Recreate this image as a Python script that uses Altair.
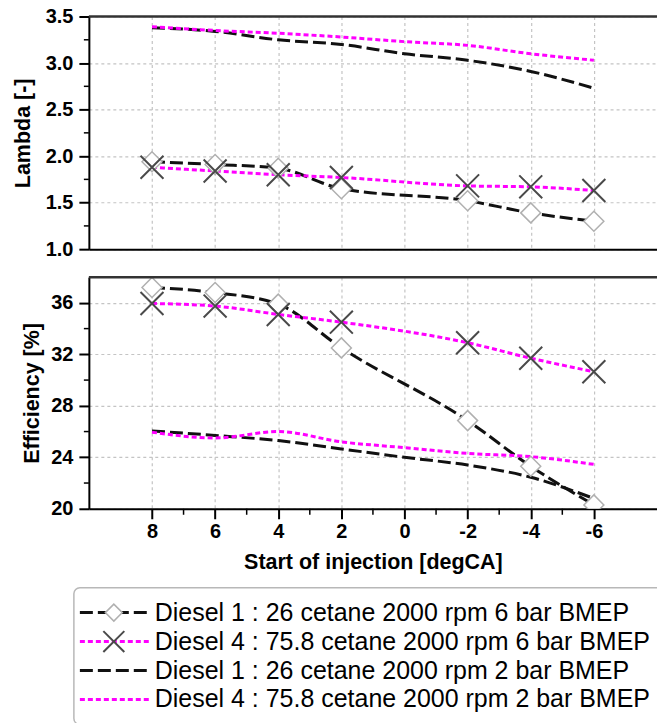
import altair as alt
import pandas as pd

# ---------------- data ----------------
series_names = [
    "Diesel 1 : 26 cetane 2000 rpm 6 bar BMEP",
    "Diesel 4 : 75.8 cetane 2000 rpm 6 bar BMEP",
    "Diesel 1 : 26 cetane 2000 rpm 2 bar BMEP",
    "Diesel 4 : 75.8 cetane 2000 rpm 2 bar BMEP",
]

x_6bar = [8, 6, 4, 2, -2, -4, -6]
x_2bar = [8, 6, 4, 2, 0, -2, -4, -6]

lambda_d1_6bar = [1.94, 1.91, 1.87, 1.65, 1.52, 1.39, 1.30]
lambda_d4_6bar = [1.88, 1.84, 1.80, 1.77, 1.68, 1.67, 1.63]
lambda_d1_2bar = [3.38, 3.34, 3.25, 3.20, 3.10, 3.03, 2.91, 2.73]
lambda_d4_2bar = [3.39, 3.35, 3.32, 3.28, 3.23, 3.19, 3.10, 3.03]

eff_d1_6bar = [37.2, 36.8, 35.9, 32.5, 26.85, 23.3, 20.3]
eff_d4_6bar = [35.95, 35.75, 35.1, 34.5, 32.9, 31.7, 30.65]
eff_d1_2bar = [26.05, 25.7, 25.3, 24.65, 24.0, 23.4, 22.45, 20.8]
eff_d4_2bar = [25.95, 25.5, 26.0, 25.2, 24.75, 24.3, 24.05, 23.45]

x_labels = [8, 6, 4, 2, 0, -2, -4, -6]
x_minor = [7, 5, 3, 1, -1, -3, -5]
lambda_ticks = [1.0, 1.5, 2.0, 2.5, 3.0, 3.5]
lambda_minor = [1.25, 1.75, 2.25, 2.75, 3.25]
eff_ticks = [20, 24, 28, 32, 36]
eff_minor = [22, 26, 30, 34]


def make_df(vals_list):
    rows = []
    for name, xs, ys in zip(series_names, [x_6bar, x_6bar, x_2bar, x_2bar], vals_list):
        for xv, yv in zip(xs, ys):
            rows.append({"series": name, "x": xv, "y": yv})
    return pd.DataFrame(rows)


df_lambda = make_df([lambda_d1_6bar, lambda_d4_6bar, lambda_d1_2bar, lambda_d4_2bar])
df_eff = make_df([eff_d1_6bar, eff_d4_6bar, eff_d1_2bar, eff_d4_2bar])

# ---------------- styling ----------------
FONT = "Liberation Sans"
W = 569
X_PATH = "M-1,-1L1,1M-1,1L1,-1"

color_scale = alt.Scale(domain=series_names,
                        range=["#111111", "#ff00ff", "#111111", "#ff00ff"])
dash_scale = alt.Scale(domain=series_names,
                       range=[[13, 5], [5, 3], [13, 5], [5, 3]])
x_scale = alt.Scale(domain=[10, -8], nice=False, zero=False)


def panel(df, ydom, ytitle, ymajor, yminor, yfmt, height, title_pad, bottom):
    ysc = alt.Scale(domain=ydom, nice=False, zero=False)
    if bottom:
        xaxis = alt.Axis(values=x_labels, grid=True, title="Start of injection [degCA]",
                         labelExpr="'' + datum.value", labelFlush=False, labelOverlap=False,
                         tickSize=10, tickWidth=2, labelPadding=3, titlePadding=10)
    else:
        xaxis = alt.Axis(values=x_labels, grid=True, labels=False, ticks=False,
                         title=None)
    yaxis = alt.Axis(values=ymajor, format=yfmt, title=ytitle, grid=True,
                     tickSize=10, tickWidth=2, labelPadding=6, titlePadding=title_pad,
                     labelFlush=False, labelOverlap=False)
    base = alt.Chart(df)
    lines = base.mark_line(strokeWidth=3, interpolate="monotone").encode(
        x=alt.X("x:Q", scale=x_scale, axis=xaxis),
        y=alt.Y("y:Q", scale=ysc, axis=yaxis),
        color=alt.Color("series:N", scale=color_scale, legend=None),
        strokeDash=alt.StrokeDash("series:N", scale=dash_scale, legend=None),
        order=alt.Order("x:Q", sort="descending"),
    )
    diamonds = base.transform_filter(alt.datum.series == series_names[0]).mark_point(
        shape="diamond", size=400, filled=True, fill="white", stroke="#b0b0b0",
        strokeWidth=1.5, opacity=1, clip=True
    ).encode(x=alt.X("x:Q", scale=x_scale), y=alt.Y("y:Q", scale=ysc))
    crosses = base.transform_filter(alt.datum.series == series_names[1]).mark_point(
        shape=X_PATH, size=529, filled=False, stroke="#4a4a4a", strokeWidth=2,
        opacity=1, clip=True
    ).encode(x=alt.X("x:Q", scale=x_scale), y=alt.Y("y:Q", scale=ysc))
    top_rule = alt.Chart(pd.DataFrame({"k": [0]})).mark_rule(
        color="#333333", strokeWidth=2.5
    ).encode(x=alt.value(0), x2=alt.value(W), y=alt.value(0))
    yminor_rules = alt.Chart(pd.DataFrame({"y": yminor})).mark_rule(
        color="black", strokeWidth=1.5
    ).encode(y=alt.Y("y:Q", scale=ysc), x=alt.value(-5), x2=alt.value(0))
    layers = [lines, diamonds, crosses, top_rule, yminor_rules]
    if bottom:
        xminor_rules = alt.Chart(pd.DataFrame({"x": x_minor})).mark_rule(
            color="black", strokeWidth=1.5
        ).encode(x=alt.X("x:Q", scale=x_scale),
                 y=alt.value(height), y2=alt.value(height + 6))
        layers.append(xminor_rules)
    return alt.layer(*layers).properties(width=W, height=height)


top = panel(df_lambda, [1.0, 3.5], "Lambda [-]", lambda_ticks, lambda_minor, ".1f",
            233, 11, False)
bottom_main = panel(df_eff, [20, 38], "Efficiency [%]", eff_ticks, eff_minor, "d",
                    232, 7, True)

# ---------------- legend (drawn below the lower panel) ----------------
leg_df = pd.DataFrame({"series": series_names})
row_scale = alt.Scale(type="point", domain=series_names, range=[336, 423], padding=0)
leg_y = alt.Y("series:N", scale=row_scale, axis=None)

box = alt.Chart(pd.DataFrame({"k": [0]})).mark_rect(
    fill="white", fillOpacity=0, stroke="#b8b8b8", strokeWidth=1.5, cornerRadius=6
).encode(x=alt.value(-15), x2=alt.value(W + 20), y=alt.value(311), y2=alt.value(448))
leg_lines = alt.Chart(leg_df).mark_rule(strokeWidth=3).encode(
    x=alt.value(-9), x2=alt.value(60), y=leg_y,
    color=alt.Color("series:N", scale=color_scale, legend=None),
    strokeDash=alt.StrokeDash("series:N", scale=dash_scale, legend=None),
)
leg_d = alt.Chart(leg_df).transform_filter(alt.datum.series == series_names[0]).mark_point(
    shape="diamond", size=289, filled=True, fill="white", stroke="#b0b0b0",
    strokeWidth=1.5, opacity=1
).encode(x=alt.value(25), y=leg_y)
leg_x = alt.Chart(leg_df).transform_filter(alt.datum.series == series_names[1]).mark_point(
    shape=X_PATH, size=441, filled=False, stroke="#4a4a4a", strokeWidth=2, opacity=1
).encode(x=alt.value(25), y=leg_y)
leg_text = alt.Chart(leg_df).mark_text(
    align="left", baseline="middle", fontSize=25, font=FONT, color="black"
).encode(x=alt.value(66), y=leg_y, text="series:N")

legend = alt.layer(box, leg_lines, leg_d, leg_x, leg_text)
bottom = alt.layer(bottom_main, legend).resolve_scale(y="independent")

chart = alt.vconcat(top, bottom, spacing=16).properties(
    padding={"left": 12, "top": 6, "right": -21, "bottom": -3}
).configure_view(stroke=None).configure_axis(
    labelFont=FONT, titleFont=FONT, labelFontSize=20, titleFontSize=21.5,
    labelFontWeight="bold", titleFontWeight="bold",
    labelColor="black", titleColor="black",
    domainColor="black", domainWidth=2, tickColor="black",
    gridColor="#c4c4c4", gridDash=[3, 3], gridWidth=1.2,
)

chart.save("out.html", embed_options={"renderer": "svg", "actions": False})
